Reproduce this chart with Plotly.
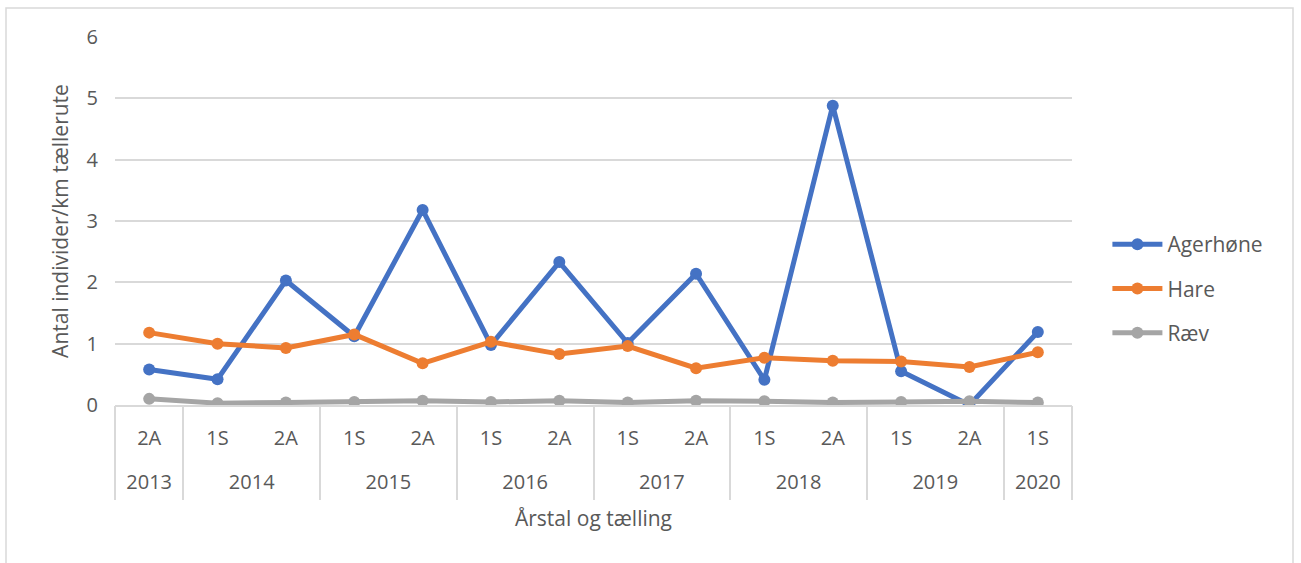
import plotly.graph_objects as go

years = ["2013", "2014", "2014", "2015", "2015", "2016", "2016", "2017", "2017",
         "2018", "2018", "2019", "2019", "2020"]
counts = ["2A", "1S", "2A", "1S", "2A", "1S", "2A", "1S", "2A", "1S", "2A", "1S", "2A", "1S"]

agerhone = [0.58, 0.42, 2.03, 1.12, 3.18, 0.98, 2.33, 1.01, 2.14, 0.41, 4.88, 0.55, 0.0, 1.19]
hare = [1.18, 1.0, 0.93, 1.15, 0.68, 1.03, 0.83, 0.96, 0.6, 0.77, 0.72, 0.71, 0.62, 0.86]
raev = [0.1, 0.03, 0.04, 0.05, 0.07, 0.05, 0.07, 0.04, 0.07, 0.06, 0.04, 0.05, 0.06, 0.04]

series = [("Agerhøne", agerhone, "#4472C4"),
          ("Hare", hare, "#ED7D31"),
          ("Ræv", raev, "#A5A5A5")]

FONT = "Open Sans"
TXT = "#595959"
GRID = "#D9D9D9"

idx = list(range(len(counts)))

# year groups: centres and boundaries derived from the category lists
year_names, year_centres, bounds = [], [], [-0.5]
start = 0
for i in range(1, len(years) + 1):
    if i == len(years) or years[i] != years[start]:
        year_names.append(years[start])
        year_centres.append((start + i - 1) / 2)
        bounds.append(i - 0.5)
        start = i

fig = go.Figure()
for name, vals, col in series:
    fig.add_trace(go.Scatter(
        x=idx, y=vals, name=name, mode="lines+markers",
        line=dict(color=col, width=5),
        marker=dict(color=col, size=12),
        legendgroup=name,
    ))
# invisible traces to activate helper axes
fig.add_trace(go.Scatter(x=[bounds[0], bounds[-1]], y=[0, 0], xaxis="x2", mode="none",
                         showlegend=False, hoverinfo="skip"))
fig.add_trace(go.Scatter(x=[bounds[0], bounds[-1]], y=[0, 0], xaxis="x3", mode="none",
                         showlegend=False, hoverinfo="skip"))

W, H = 1301, 563
L, R, T, B = 115, 229, 37, 158
pw, ph = W - L - R, H - T - B

def px_x(v):
    return (v - L) / pw

def px_y(v):
    return (H - B - v) / ph

xr = [bounds[0], bounds[-1]]

fig.update_layout(
    width=W, height=H,
    margin=dict(l=L, r=R, t=T, b=B),
    paper_bgcolor="white", plot_bgcolor="white",
    font=dict(family=FONT, size=20, color=TXT),
    showlegend=True,
    legend=dict(x=1.037, y=px_y(224), xanchor="left", yanchor="top",
                font=dict(size=21, color=TXT), tracegroupgap=14,
                itemwidth=50, bgcolor="rgba(0,0,0,0)"),
    xaxis=dict(
        range=xr, tickvals=idx, ticktext=counts,
        showgrid=False, showline=True, linecolor=GRID, linewidth=1.5,
        zeroline=False, ticks="", ticklabelstandoff=14,
        tickfont=dict(size=20, color=TXT),
    ),
    xaxis2=dict(
        overlaying="x", anchor="y", side="bottom", range=xr,
        tickvals=year_centres, ticktext=year_names,
        showgrid=False, showline=False, zeroline=False, ticks="",
        ticklabelstandoff=63, tickfont=dict(size=20, color=TXT),
        title=dict(text="Årstal og tælling", font=dict(size=21, color=TXT), standoff=17),
    ),
    xaxis3=dict(
        overlaying="x", anchor="y", side="bottom", range=xr,
        tickvals=bounds, ticktext=[""] * len(bounds),
        showgrid=False, showline=False, zeroline=False,
        ticks="outside", ticklen=94, tickwidth=1.5, tickcolor=GRID,
        showticklabels=True,
    ),
    yaxis=dict(
        range=[0, 6], dtick=1, showgrid=True, gridcolor=GRID, gridwidth=1.5,
        zeroline=False, showline=False, ticks="",
        tickfont=dict(size=20, color=TXT), ticklabelstandoff=16,
        title=dict(text="Antal individer/km tællerute", font=dict(size=21, color=TXT), standoff=12),
    ),
)

fig.add_shape(type="rect", xref="paper", yref="paper",
              x0=px_x(6), x1=px_x(1293), y0=px_y(570), y1=px_y(8),
              line=dict(color=GRID, width=1.5), fillcolor="rgba(0,0,0,0)", layer="below")

fig.write_html("out.html")
